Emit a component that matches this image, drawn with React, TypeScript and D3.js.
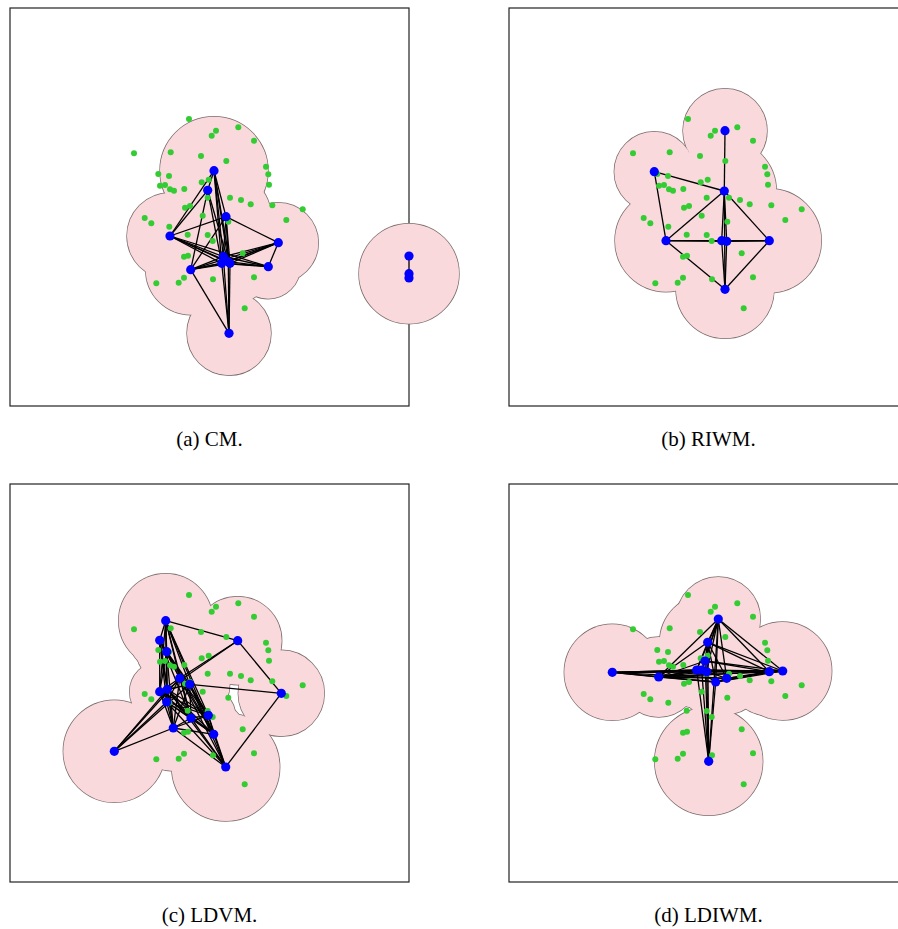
import React from "react";
import * as d3 from "d3";

// ---- shared ground targets (panel-local units) ----
const targets: [number, number][] = [
  [179, 111], [206, 122.7], [201.7, 127.7], [228.3, 119.3], [244, 132.7], [124, 145.3],
  [160.7, 144.3], [191, 148], [216.3, 153], [256, 158.7], [258.3, 166.3], [259, 176.7],
  [148.3, 166], [159, 168], [191.7, 174.3], [198.7, 171.7], [150, 177.7], [155, 177],
  [160, 181.3], [164, 182.7], [174.3, 181], [197.7, 189.7], [220, 189.7], [231, 192],
  [240.7, 196.3], [262.3, 197.3], [292.7, 201.3], [276.3, 212], [175, 199.7], [180, 198],
  [192.7, 207.7], [134.7, 210], [141.3, 215.3], [159.3, 218.7], [177.7, 226.7], [197.7, 227],
  [202.7, 233], [218.3, 213.7], [232.7, 245.3], [174, 248.7], [178, 247.7], [146.3, 275.3],
  [168.7, 274.7], [174, 269.7], [203, 271.3], [244, 269.3], [234.7, 300.3],
];

// ---- (a) CM ----
const nodesCM: [number, number][] = [
  [204, 162.7], [197.7, 182.3], [216, 208.7], [160, 228], [268.3, 234.7], [258.3, 258.7],
  [180.7, 261.7], [213.3, 248.7], [218.3, 253.7], [211.7, 255.3], [220, 255.3], [219, 325.3],
  [399, 248], [399, 265.7], [399, 270],
];
const radiiCM: number[] = [54, 40, 45, 43, 40, 32, 45, 42, 42, 42, 42, 42, 20, 50, 20];
const edgesCM: [number, number][] = [
  [0, 1], [0, 2], [0, 3], [0, 7], [0, 8], [0, 9], [0, 10],
  [1, 3], [1, 6], [1, 8], [1, 9],
  [2, 3], [2, 4], [2, 6], [2, 7], [2, 8], [2, 10],
  [3, 7], [3, 8], [3, 9], [3, 10], [3, 5],
  [4, 5], [4, 6], [4, 7], [4, 8], [4, 9], [4, 10],
  [5, 7], [5, 8], [5, 9], [5, 10],
  [6, 7], [6, 8], [6, 9], [6, 10], [6, 11],
  [11, 7], [11, 8], [11, 9], [11, 10],
  [12, 13], [13, 14], [7, 8], [8, 9], [9, 10],
];

// ---- (b) RIWM ----
const nodesRIWM: [number, number][] = [
  [216, 122.7], [145.3, 163.7], [215.3, 183], [157, 232.7], [212.7, 232.7], [217.7, 233.3],
  [260.3, 232.7], [216, 281.3],
];
const radiiRIWM: number[] = [42, 40, 52, 51, 45, 45, 52, 49];
const edgesRIWM: [number, number][] = [
  [0, 2], [1, 2], [1, 3], [2, 3], [2, 4], [2, 5], [2, 6], [2, 7], [3, 4], [3, 5], [3, 6],
  [3, 7], [4, 5], [4, 6], [5, 6], [6, 7], [4, 7], [5, 7],
];

// ---- (c) LDVM ----
const nodesLDVM: [number, number][] = [
  [155.7, 136.7], [227.7, 156.7], [149.7, 156.3], [156.7, 167.7], [169.7, 194.3], [179.7, 200.3],
  [149.7, 207.7], [157.3, 205.3], [156.7, 218], [271.3, 209.3], [181, 234], [198.3, 231.3],
  [163.3, 244], [203.7, 250.3], [104.3, 267.3], [215.7, 283],
];
const radiiLDVM: number[] = [47, 44, 30, 30, 36, 40, 30, 30, 30, 43, 30, 27, 43, 32, 51, 54];
const edgesLDVM: [number, number][] = [
  [0, 1], [0, 2], [0, 3], [0, 4], [0, 5], [0, 6], [0, 7], [0, 8], [0, 10], [0, 11], [0, 13],
  [1, 9], [1, 4], [1, 7],
  [2, 3], [2, 4], [2, 6], [2, 7], [2, 8], [2, 10], [2, 12],
  [3, 4], [3, 5], [3, 6], [3, 8], [3, 11], [3, 12], [3, 13],
  [4, 5], [4, 6], [4, 8], [4, 10], [4, 11], [4, 12], [4, 13], [4, 15],
  [5, 6], [5, 7], [5, 9], [5, 10], [5, 11], [5, 12], [5, 13], [5, 15],
  [6, 7], [6, 8], [6, 10], [6, 11], [6, 12], [6, 13],
  [7, 8], [7, 10], [7, 11], [7, 12], [7, 13], [7, 15],
  [8, 10], [8, 11], [8, 12], [8, 13], [8, 15],
  [9, 15],
  [10, 11], [10, 12], [10, 13], [10, 15],
  [11, 12], [11, 13], [11, 15],
  [12, 13], [12, 15], [13, 15],
  [14, 12], [14, 8], [14, 7], [14, 4], [14, 5],
];

// ---- (d) LDIWM ----
const nodesLDIWM: [number, number][] = [
  [209.3, 135], [198.7, 158.3], [196, 177], [103.3, 188.3], [149.7, 193], [187.7, 186],
  [192.7, 186], [197.7, 187.7], [206.7, 198], [217.7, 194.3], [260.3, 187.7], [273.7, 187],
  [199.7, 277.3],
];
const radiiLDIWM: number[] = [42, 48, 35, 48, 40, 38, 38, 38, 36, 36, 44, 49, 54];
const edgesLDIWM: [number, number][] = [
  [0, 1], [0, 2], [0, 4], [0, 5], [0, 6], [0, 7], [0, 8], [0, 9], [0, 10], [0, 11], [0, 12],
  [1, 2], [1, 4], [1, 5], [1, 7], [1, 8], [1, 9], [1, 10], [1, 11], [1, 12],
  [2, 4], [2, 6], [2, 10], [2, 11], [2, 12],
  [3, 4], [3, 5], [3, 6], [3, 7], [3, 8], [3, 9], [3, 10], [3, 11],
  [4, 5], [4, 6], [4, 7], [4, 8], [4, 9], [4, 10], [4, 11],
  [5, 6], [6, 7], [5, 8], [6, 9], [7, 10], [7, 11], [8, 9], [8, 10], [8, 11], [9, 10],
  [9, 11], [10, 11], [5, 11], [6, 10],
  [5, 12], [6, 12], [7, 12], [8, 12],
];

const captions: string[] = ["(a) CM.", "(b) RIWM.", "(c) LDVM.", "(d) LDIWM."];

const panels = [
  { nodes: nodesCM, radii: radiiCM, edges: edgesCM, ox: 10, oy: 8 },
  { nodes: nodesRIWM, radii: radiiRIWM, edges: edgesRIWM, ox: 509, oy: 8 },
  { nodes: nodesLDVM, radii: radiiLDVM, edges: edgesLDVM, ox: 10, oy: 484 },
  { nodes: nodesLDIWM, radii: radiiLDIWM, edges: edgesLDIWM, ox: 509, oy: 484 },
];

const W = 399;
const H = 398;

export default function App() {
  const x = d3.scaleLinear().domain([0, 399]).range([0, W]);
  const y = d3.scaleLinear().domain([0, 398]).range([0, H]);
  const rs = (r: number) => x(r) - x(0);

  return (
    <svg
      width={898}
      height={929}
      style={{ position: "absolute", left: 0, top: 0, background: "#fff" }}
    >
      {panels.map((p, pi) => (
        <g key={pi} transform={`translate(${p.ox},${p.oy})`}>
          <rect x={0} y={0} width={W} height={H} fill="none" stroke="#222" strokeWidth={1.2} />
          {p.nodes.map((n, i) => (
            <circle
              key={"s" + i}
              cx={x(n[0])}
              cy={y(n[1])}
              r={rs(p.radii[i])}
              fill="none"
              stroke="#7d6e6e"
              strokeWidth={1.4}
            />
          ))}
          {p.nodes.map((n, i) => (
            <circle key={"f" + i} cx={x(n[0])} cy={y(n[1])} r={rs(p.radii[i])} fill="#f9d9dc" />
          ))}
          {p.edges.map((e, i) => (
            <line
              key={"e" + i}
              x1={x(p.nodes[e[0]][0])}
              y1={y(p.nodes[e[0]][1])}
              x2={x(p.nodes[e[1]][0])}
              y2={y(p.nodes[e[1]][1])}
              stroke="#000"
              strokeWidth={1.3}
            />
          ))}
          {targets.map((t, i) => (
            <circle key={"t" + i} cx={x(t[0])} cy={y(t[1])} r={3} fill="#33cc33" />
          ))}
          {p.nodes.map((n, i) => (
            <circle key={"n" + i} cx={x(n[0])} cy={y(n[1])} r={4.6} fill="#0000ff" />
          ))}
          <text
            x={W / 2}
            y={H + 40}
            textAnchor="middle"
            fontFamily="Liberation Serif, Times New Roman, serif"
            fontSize={21}
            fill="#000"
          >
            {captions[pi]}
          </text>
        </g>
      ))}
    </svg>
  );
}
